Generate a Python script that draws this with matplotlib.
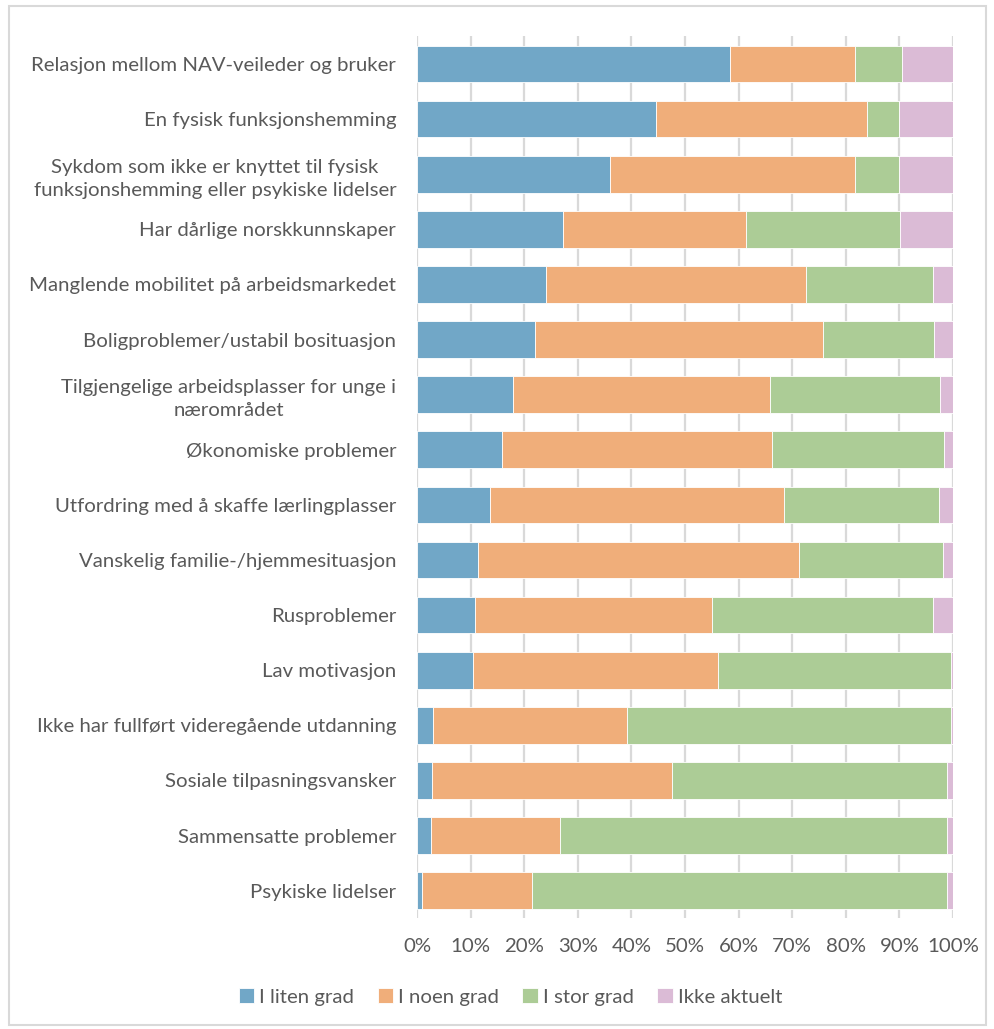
import numpy as np
import matplotlib
matplotlib.use("Agg")
import matplotlib.pyplot as plt
from matplotlib.patches import Rectangle

plt.rcParams['font.family'] = ['Lato', 'DejaVu Sans']

# Categories, top to bottom
labels = [
    "Relasjon mellom NAV-veileder og bruker",
    "En fysisk funksjonshemming",
    "Sykdom som ikke er knyttet til fysisk\nfunksjonshemming eller psykiske lidelser",
    "Har dårlige norskkunnskaper",
    "Manglende mobilitet på arbeidsmarkedet",
    "Boligproblemer/ustabil bosituasjon",
    "Tilgjengelige arbeidsplasser for unge i\nnærområdet",
    "Økonomiske problemer",
    "Utfordring med å skaffe lærlingplasser",
    "Vanskelig familie-/hjemmesituasjon",
    "Rusproblemer",
    "Lav motivasjon",
    "Ikke har fullført videregående utdanning",
    "Sosiale tilpasningsvansker",
    "Sammensatte problemer",
    "Psykiske lidelser",
]

# Shares in percent
liten = [58.4, 44.6, 36.0, 27.2, 24.1, 22.1, 17.9, 15.8, 13.7, 11.3, 10.8, 10.5, 3.0, 2.8, 2.6, 0.9]
noen = [23.4, 39.4, 45.7, 34.2, 48.4, 53.7, 48.0, 50.5, 54.7, 60.0, 44.3, 45.6, 36.2, 44.7, 24.0, 20.6]
stor = [8.6, 5.9, 8.2, 28.8, 23.8, 20.7, 31.7, 32.1, 28.9, 26.9, 41.2, 43.6, 60.5, 51.3, 72.2, 77.4]
ikke = [9.6, 10.1, 10.1, 9.8, 3.7, 3.5, 2.4, 1.6, 2.7, 1.8, 3.7, 0.3, 0.3, 1.2, 1.2, 1.1]

series = ["I liten grad", "I noen grad", "I stor grad", "Ikke aktuelt"]
colors = ["#71a7c7", "#f0ae7a", "#accc96", "#dbbbd6"]

fig = plt.figure(figsize=(9.95, 10.29), dpi=100)
ax = fig.add_axes([0.4191, 0.1076, 0.5387, 0.857])

y = np.arange(len(labels))
left = np.zeros(len(labels))
for name, vals, col in zip(series, [liten, noen, stor, ikke], colors):
    vals = np.array(vals)
    ax.barh(y, vals, left=left, height=0.666, color=col, label=name,
            edgecolor="white", linewidth=0.6, zorder=3)
    left += vals

ax.set_xlim(0, 100)
ax.set_ylim(len(labels) - 0.5, -0.5)
ax.set_xticks(np.arange(0, 101, 10))
ax.set_xticklabels([f"{v}%" for v in range(0, 101, 10)])
ax.set_yticks(y)
ax.set_yticklabels(labels, ha="right", multialignment="center")
for t in ax.get_yticklabels():
    t.set_linespacing(1.45)
ax.tick_params(axis="y", length=0, pad=15, labelsize=14.7, labelcolor="#595959")
ax.tick_params(axis="x", length=0, pad=14, labelsize=14.7, labelcolor="#595959")
ax.grid(axis="x", color="#d9d9d9", linewidth=1.6, zorder=0)
for s in ax.spines.values():
    s.set_visible(False)

leg = fig.legend(loc="center", bbox_to_anchor=(0.513, 0.031), ncol=4, frameon=False,
                 fontsize=14.7, handlelength=0.75, handleheight=0.75,
                 handletextpad=0.25, columnspacing=1.15)
for t in leg.get_texts():
    t.set_color("#595959")

# light border around the whole chart
fig.patches.append(Rectangle((0.009, 0.004), 0.982, 0.99, transform=fig.transFigure,
                             fill=False, edgecolor="#d9d9d9", linewidth=1.5))

fig.savefig("out.png", dpi=100)
